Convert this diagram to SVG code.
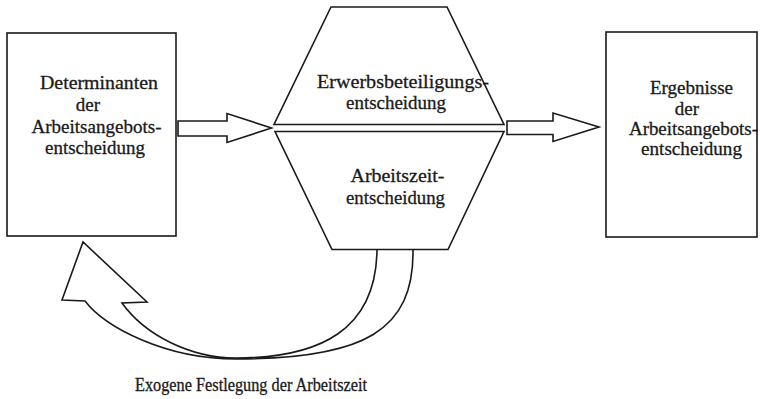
<svg xmlns="http://www.w3.org/2000/svg" width="760" height="399" viewBox="0 0 760 399">
<style>
.s{fill:none;stroke:#1a1a1a;stroke-width:1.6;stroke-linejoin:miter}
.w{fill:#fff;stroke:#1a1a1a;stroke-width:1.6}
.t{font-family:'Liberation Serif','Times New Roman',serif;font-size:19px;fill:#1a1a1a;stroke:#1a1a1a;stroke-width:0.3;text-anchor:middle}
</style>
<rect width="760" height="399" fill="#fff"/>
<g id="determinanten">
<rect class="s" x="7" y="33" width="169" height="203"/>
<text class="t" x="99" y="89" textLength="118" lengthAdjust="spacingAndGlyphs">Determinanten</text>
<text class="t" x="88" y="110.5">der</text>
<text class="t" x="96.5" y="132.5" textLength="130" lengthAdjust="spacingAndGlyphs">Arbeitsangebots-</text>
<text class="t" x="95" y="154" textLength="100" lengthAdjust="spacingAndGlyphs">entscheidung</text>
</g>
<g id="erwerbsbeteiligung">
<polygon class="s" points="331,7 447,7 504,124.5 274,124.5"/>
<text class="t" x="403" y="88" textLength="172" lengthAdjust="spacingAndGlyphs">Erwerbsbeteiligungs-</text>
<text class="t" x="396" y="109" textLength="100" lengthAdjust="spacingAndGlyphs">entscheidung</text>
</g>
<g id="arbeitszeit">
<polygon class="s" points="275,131.5 504,131.5 448,249.5 332,249.5"/>
<text class="t" x="397.5" y="182" textLength="94" lengthAdjust="spacingAndGlyphs">Arbeitszeit-</text>
<text class="t" x="395.5" y="204" textLength="99" lengthAdjust="spacingAndGlyphs">entscheidung</text>
</g>
<g id="ergebnisse">
<rect class="s" x="606" y="32" width="151" height="205"/>
<text class="t" x="691.5" y="94">Ergebnisse</text>
<text class="t" x="687" y="114.5">der</text>
<text class="t" x="693.5" y="135" textLength="129" lengthAdjust="spacingAndGlyphs">Arbeitsangebots-</text>
<text class="t" x="691.5" y="155" textLength="101" lengthAdjust="spacingAndGlyphs">entscheidung</text>
</g>
<g id="connectors">
<polygon class="w" points="178,121 227,121 227,113.5 271.5,128 227,142.5 227,136 178,136"/>
<polygon class="w" points="507,121 553,121 553,113 599,127 553,141.5 553,134.5 507,134.5"/>
<path class="s" d="M377,250 C376,330 320,358 236,358 C190,358 145,335 122,303 L147,302 L83,242 L62,300 L85,301 C105,327 165,359 236,359 C365,359 414,330 413,250"/>
</g>
<text class="t" x="251" y="391" style="font-size:18px" textLength="232" lengthAdjust="spacingAndGlyphs">Exogene Festlegung der Arbeitszeit</text>
</svg>
